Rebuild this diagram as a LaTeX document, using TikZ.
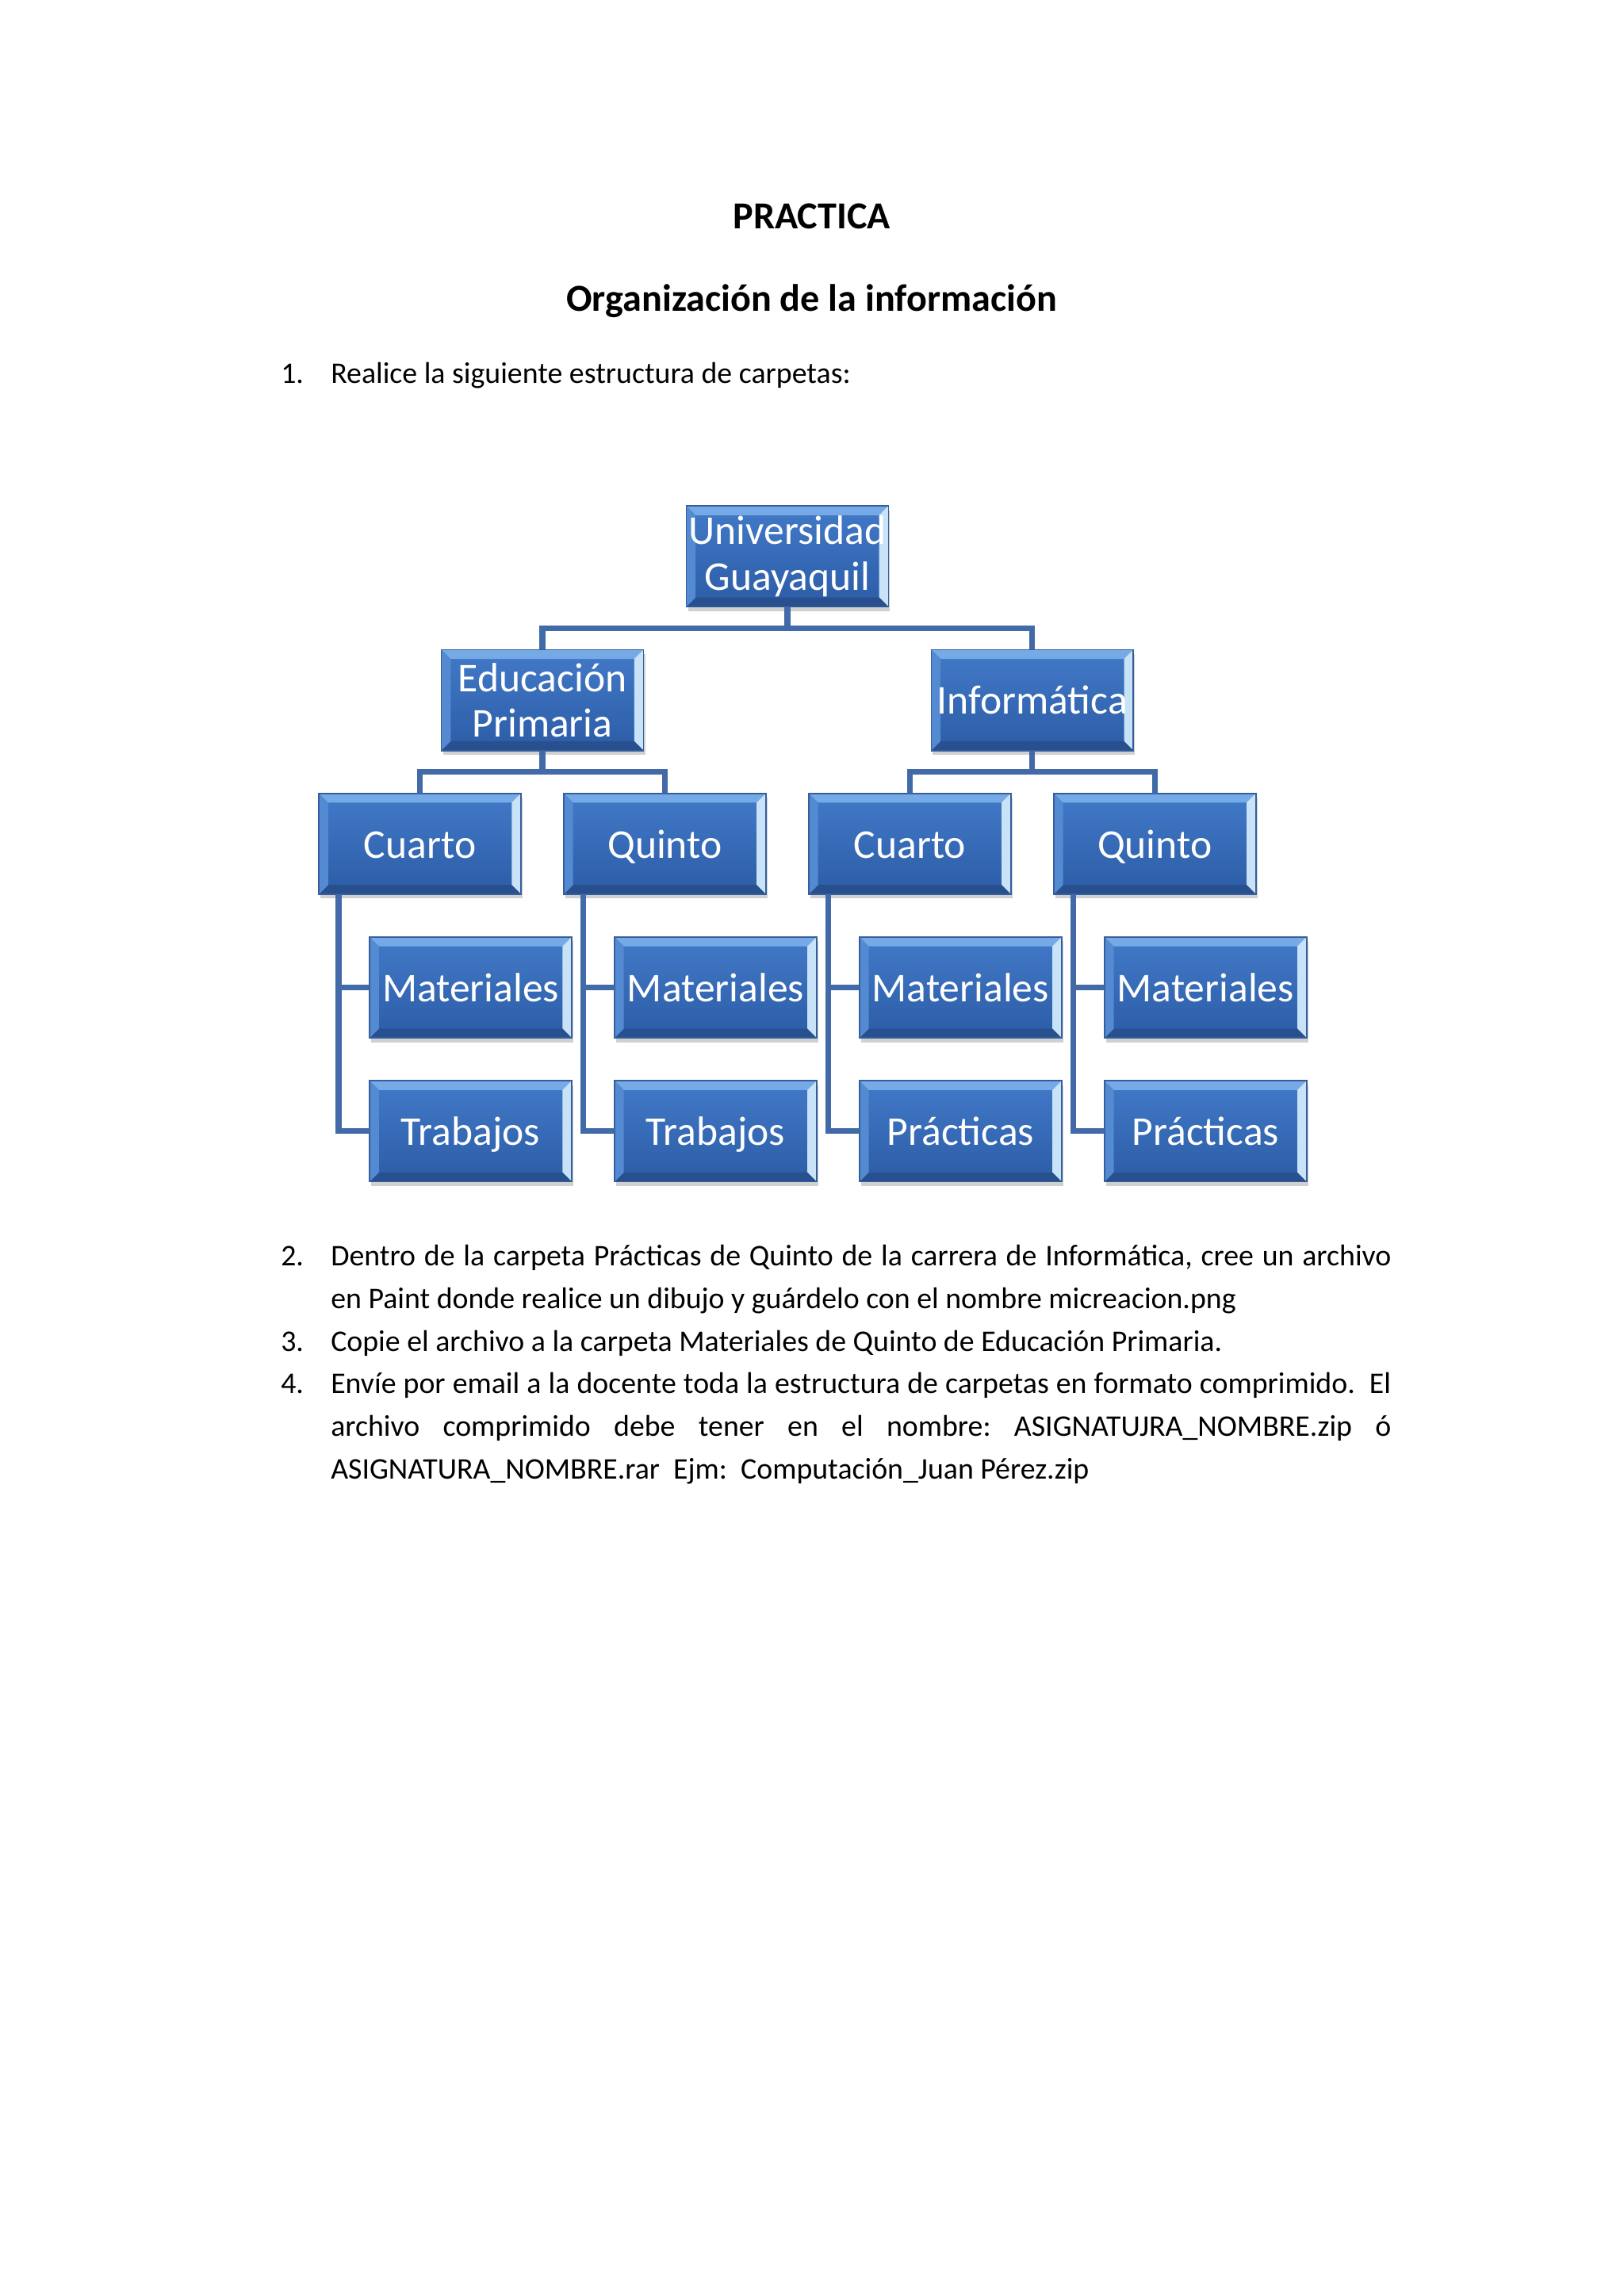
\documentclass[tikz,border=0pt]{standalone}
\usepackage{fontspec}
\setmainfont{Carlito}
\usepackage{xcolor}
\usepackage{tikz}
\usetikzlibrary{positioning, shadows}

\definecolor{boxtop}{RGB}{66,122,200}
\definecolor{boxbot}{RGB}{44,92,166}
\definecolor{bevtop}{RGB}{118,170,230}
\definecolor{bevright}{RGB}{200,226,247}
\definecolor{bevleft}{RGB}{84,138,210}
\definecolor{bevbot}{RGB}{40,80,142}
\definecolor{boxedge}{RGB}{54,94,156}
\definecolor{linkblue}{RGB}{66,106,168}

\tolerance=9999
\hyphenpenalty=10000
\frenchspacing

% bevelled edges of a folder box
\newcommand{\folderbevel}{%
  \path (path picture bounding box.north west) coordinate (bnw)
        (path picture bounding box.north east) coordinate (bne)
        (path picture bounding box.south east) coordinate (bse)
        (path picture bounding box.south west) coordinate (bsw);
  \fill[bevtop]   (bnw) -- (bne) -- ([shift={(-3.4pt,-3.4pt)}]bne) -- ([shift={(3.4pt,-3.4pt)}]bnw) -- cycle;
  \fill[bevright] (bne) -- (bse) -- ([shift={(-3.4pt,3.4pt)}]bse) -- ([shift={(-3.4pt,-3.4pt)}]bne) -- cycle;
  \fill[bevbot]   (bse) -- (bsw) -- ([shift={(3.4pt,3.4pt)}]bsw) -- ([shift={(-3.4pt,3.4pt)}]bse) -- cycle;
  \fill[bevleft]  (bsw) -- (bnw) -- ([shift={(3.4pt,-3.4pt)}]bnw) -- ([shift={(3.4pt,3.4pt)}]bsw) -- cycle;
}

\begin{document}
\begin{tikzpicture}[
  x=1pt, y=1pt,
  every node/.style={inner sep=0pt, outer sep=0pt},
  folder/.style={rectangle, minimum width=74.1pt, minimum height=37pt,
                 top color=boxtop, bottom color=boxbot, draw=boxedge,
                 line width=0.5pt, text=white, align=center,
                 font=\fontsize{15}{16.6}\selectfont,
                 drop shadow={shadow xshift=0.6pt, shadow yshift=-1.6pt,
                              opacity=0.3, fill=black!60},
                 path picture={\folderbevel}},
  leaf/.style={folder, text height=14.3pt, text depth=4pt},
  heading/.style={font=\fontsize{14}{16.8}\selectfont\bfseries, anchor=base},
  body/.style={font=\fontsize{11}{15.6}\selectfont, anchor=base west},
  para/.style={body, text width=388.7pt, align=justify},
  link/.style={draw=linkblue, line width=2.1pt}
]

  % ── Page ──────────────────────────────────────────────────────
  \useasboundingbox (0,0) rectangle (595.3,-841.9);
  \fill[white] (0,0) rectangle (595.3,-841.9);

  % ── Headings ──────────────────────────────────────────────────
  \node[heading] (title)    at (297.6,-83.9) {PRACTICA};
  \node[heading] (subtitle) at (297.6,-114)  {Organización de la información};

  \node[body] (num1) at (103,-140.5)   {1.};
  \node[body] (txt1) at (121.3,-140.5) {Realice la siguiente estructura de carpetas:};

  % ── Folder tree ───────────────────────────────────────────────
  \node[folder] (uni) at (288.65,-204) {Universidad\\Guayaquil};
  \node[folder, below left=15.7pt and 15.7pt of uni] (edu) {Educación\\Primaria};
  \node[leaf, below right=15.7pt and 15.7pt of uni]  (inf) {Informática};

  \node[leaf, below=15.7pt of edu, xshift=-44.9pt] (cu1) {Cuarto};
  \node[leaf, right=15.7pt of cu1] (qu1) {Quinto};
  \node[leaf, right=15.7pt of qu1] (cu2) {Cuarto};
  \node[leaf, right=15.7pt of cu2] (qu2) {Quinto};

  \foreach \p/\k in {uni/edu, uni/inf, edu/cu1, edu/qu1, inf/cu2, inf/qu2}
    \draw[link] (\p.south) -- ++(0,-7.85) -| (\k.north);

  \foreach \c/\m/\t/\tx in {cu1/mat1/sub1/Trabajos, qu1/mat2/sub2/Trabajos,
                            cu2/mat3/sub3/Prácticas, qu2/mat4/sub4/Prácticas} {
    \node[leaf, below=15.7pt of \c, xshift=18.6pt] (\m) {Materiales};
    \node[leaf, below=15.7pt of \m] (\t) {\tx};
    \draw[link] ([xshift=7.2pt]\c.south west) |- (\m.west);
    \draw[link] ([xshift=7.2pt]\c.south west) |- (\t.west);
  }

  % ── Remaining steps ───────────────────────────────────────────
  \node[body] (num2) at (103,-464.2)   {2.};
  \node[para] (txt2) at (121.3,-464.2)
    {Dentro de la carpeta Prácticas de Quinto de la carrera de Informática, cree un archivo\linebreak
     en Paint donde realice un dibujo y guárdelo con el nombre micreacion.png};
  \node[body] (num3) at (103,-495.4)   {3.};
  \node[para] (txt3) at (121.3,-495.4)
    {Copie el archivo a la carpeta Materiales de Quinto de Educación Primaria.};
  \node[body] (num4) at (103,-511)     {4.};
  \node[para] (txt4) at (121.3,-511)
    {Envíe por email a la docente toda la estructura de carpetas en formato comprimido.~\ El\linebreak
     archivo comprimido debe tener en el nombre: ASIGNATUJRA\_NOMBRE.zip ó\linebreak
     ASIGNATURA\_NOMBRE.rar~\ Ejm:~\ Computación\_Juan Pérez.zip};

\end{tikzpicture}
\end{document}
